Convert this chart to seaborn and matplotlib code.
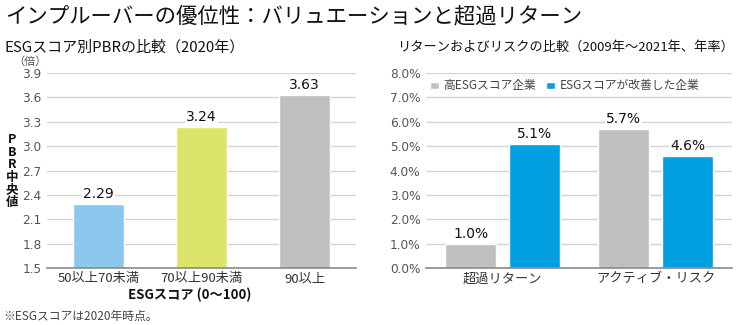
import matplotlib
matplotlib.use("Agg")
import matplotlib.pyplot as plt
import seaborn as sns
import pandas as pd

# ---- data ----
title = "インプルーバーの優位性：バリュエーションと超過リターン"
left_title = "ESGスコア別PBRの比較（2020年）"
right_title = "リターンおよびリスクの比較（2009年～2021年、年率）"
score_bins = ["50以上70未満", "70以上90未満", "90以上"]
pbr_median = [2.29, 3.24, 3.63]
left_colors = ["#8CC8EE", "#DDE46A", "#BFBFBF"]
left_yticks = [1.5, 1.8, 2.1, 2.4, 2.7, 3.0, 3.3, 3.6, 3.9]

metrics = ["超過リターン", "アクティブ・リスク"]
series_names = ["高ESGスコア企業", "ESGスコアが改善した企業"]
high_esg = [1.0, 5.7]
improved_esg = [5.1, 4.6]
right_colors = ["#BFBFBF", "#00A0E0"]
right_yticks = [0, 1, 2, 3, 4, 5, 6, 7, 8]

FONT = ["Noto Sans CJK JP", "DejaVu Sans"]
NUMFONT = ["DejaVu Sans"]
sns.set_theme(style="white")
plt.rcParams["font.family"] = FONT

fig = plt.figure(figsize=(7.4, 3.25), dpi=100)
axL = fig.add_axes([47/740, 1-268/325, 309/740, 195/325])
axR = fig.add_axes([426/740, 1-268/325, 306/740, 195/325])

grid_c = "#D4D4D4"
tick_c = "#555555"

# ---- left chart ----
dfL = pd.DataFrame({"bin": score_bins, "pbr": pbr_median})
sns.barplot(data=dfL, x="bin", y="pbr", hue="bin", palette=left_colors,
            width=0.5, legend=False, ax=axL, saturation=1)
axL.set_ylim(1.5, 3.9)
axL.set_yticks(left_yticks)
axL.set_yticklabels([f"{v:.1f}" for v in left_yticks])
for c in axL.containers:
    axL.bar_label(c, fmt="%.2f", padding=2, fontsize=10, color="#111111",
                  family=NUMFONT,
                  bbox=dict(fc="white", ec="none", pad=1))
axL.set_xlabel("ESGスコア (0〜100)", fontsize=9.5, fontweight="bold",
               color="#111111", labelpad=1)
axL.xaxis.set_label_coords(0.463, -0.1)
axL.set_ylabel("")

# ---- right chart ----
dfR = pd.DataFrame({
    "metric": metrics * 2,
    "value": high_esg + improved_esg,
    "series": [series_names[0]] * 2 + [series_names[1]] * 2,
})
sns.barplot(data=dfR, x="metric", y="value", hue="series",
            palette=right_colors, width=0.836, gap=0.2, ax=axR, saturation=1)
axR.set_ylim(0, 8)
axR.set_yticks(right_yticks)
axR.set_yticklabels([f"{v:.1f}%" for v in right_yticks])
for c in axR.containers:
    axR.bar_label(c, fmt="%.1f%%", padding=2, fontsize=10, color="#111111",
                  family=NUMFONT,
                  bbox=dict(fc="white", ec="none", pad=1))
axR.set_xlabel("")
axR.set_ylabel("")
leg = axR.legend(loc="upper left", bbox_to_anchor=(0.0, 0.985), ncol=2,
                 frameon=True, fontsize=8.5, handlelength=0.8, handleheight=0.6,
                 handletextpad=0.4, columnspacing=0.8, borderaxespad=0.2,
                 borderpad=0.1)
leg.get_frame().set_facecolor("white")
leg.get_frame().set_edgecolor("none")
leg.get_frame().set_alpha(1)
for t in leg.get_texts():
    t.set_color("#444444")

for ax in (axL, axR):
    ax.set_axisbelow(True)
    ax.yaxis.grid(True, color=grid_c, lw=1)
    ax.xaxis.grid(False)
    for s in ("left", "right", "top"):
        ax.spines[s].set_visible(False)
    ax.spines["bottom"].set_color("#8A8A8A")
    ax.spines["bottom"].set_linewidth(1.2)
    ax.tick_params(axis="y", length=0, pad=4, labelsize=8.7, labelcolor=tick_c)
    ax.tick_params(axis="x", length=0, pad=3, labelsize=9.5, labelcolor="#333333")
    for lab in ax.get_yticklabels():
        lab.set_family(NUMFONT)

# ---- texts ----
fig.text(5/740, 1-16/325, title, fontsize=15.4, fontweight="normal",
         va="center", ha="left", color="#111111")
fig.text(5/740, 1-47/325, left_title, fontsize=10.8, va="center", ha="left",
         color="#111111")
fig.text(397/740, 1-47/325, right_title, fontsize=9.5, va="center", ha="left",
         color="#111111")
fig.text(30/740, 1-62/325, "（倍）", fontsize=8, va="center", ha="center",
         color=tick_c)
fig.text(12/740, 1-171/325, "\n".join("PBR中央値"), fontsize=9,
         fontweight="bold", va="center", ha="center", linespacing=0.95,
         color="#111111")
fig.text(3/740, 1-316/325, "※ESGスコアは2020年時点。", fontsize=8.5,
         va="center", ha="left", color="#444444")

fig.savefig("out.png", dpi=100)
